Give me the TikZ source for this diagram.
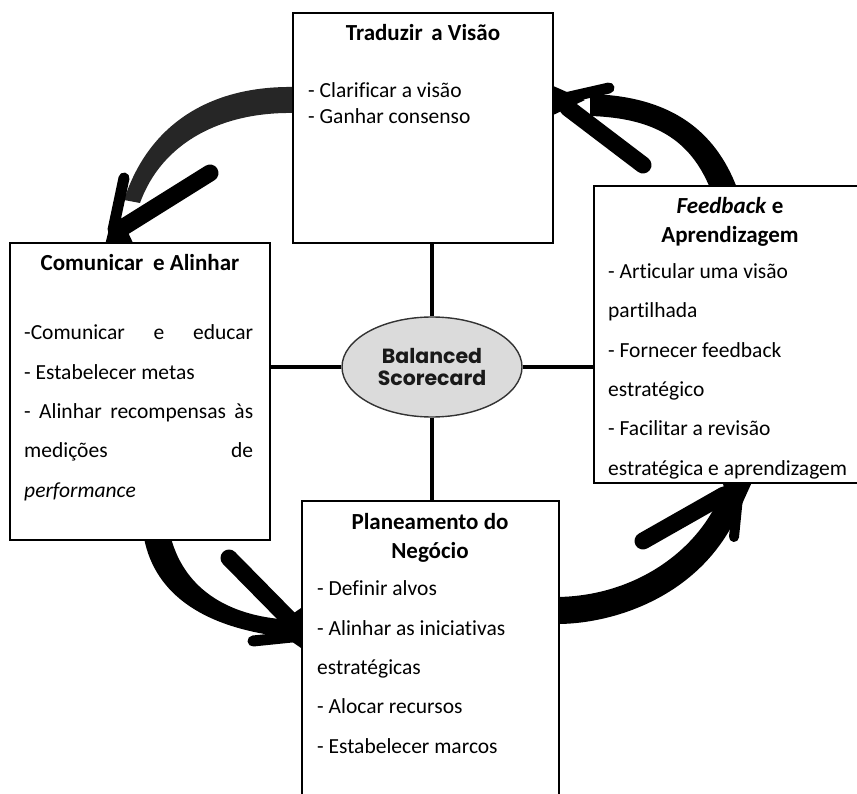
\documentclass[tikz,border=0pt]{standalone}
\usepackage{fontspec}
\setmainfont{Carlito}[Ligatures=NoCommon]
\newfontfamily\bscfont{Poppins}
\usetikzlibrary{shapes.geometric}
\begin{document}
\begin{tikzpicture}[x=1pt,y=-1pt,
  box/.style={draw, line width=2.3pt, fill=white, inner sep=0pt, outer sep=0pt},
  link/.style={line width=4pt},
  barb/.style={line cap=round, draw=black},
  % multi-line texts are placed by the baseline of their last line
  body/.style={font=\fontsize{21.5}{39.3}\selectfont, align=left, anchor=base west, inner sep=0pt},
  boxtitle/.style={font=\fontsize{23}{29}\selectfont\bfseries, align=center, anchor=base, inner sep=0pt},
]
\useasboundingbox (0,0) rectangle (857,794);

% ---- cycle arrows (drawn first, boxes sit on top) ----
% top -> left
\fill[black!85] (293,87) .. controls (215,86) and (150,120) .. (124,200)
  -- (140,203) .. controls (162,142) and (222,112) .. (293,113) -- cycle;
\draw[barb, line width=11pt] (113,230) -- (124,178);
\draw[barb, line width=17pt] (122,228) -- (210,173);
\fill (105,245) -- (115,205) -- (134,245) -- cycle;

% right -> top
\fill (737,188) .. controls (715,130) and (670,96) .. (590,94)
  -- (590,116) .. controls (655,118) and (690,140) .. (710,188) -- cycle;
\draw[barb, line width=11pt] (565,98) -- (609,88);
\draw[barb, line width=17pt] (568,108) -- (643,165);
\fill (551,85) -- (585,100) -- (551,116) -- cycle;

% left -> bottom
\fill (144,538) .. controls (155,595) and (205,630) .. (295,638)
  -- (295,620) .. controls (230,618) and (185,590) .. (171,538) -- cycle;
\draw[barb, line width=11pt] (292,637) -- (253,641);
\draw[barb, line width=17pt] (292,622) -- (229,558);
\fill (304,606) -- (272,628) -- (304,650) -- cycle;

% bottom -> right
\fill (557,624) .. controls (620,624) and (720,590) .. (748,485)
  -- (724,485) .. controls (705,545) and (640,596) .. (557,597) -- cycle;
\draw[barb, line width=17pt] (724,495) -- (643,541);
\draw[barb, line width=10pt] (738,497) -- (734,537);
\fill (722,482) -- (752,482) -- (737,515) -- cycle;

% ---- boxes ----
\node[box, minimum width=260pt, minimum height=230pt] (top) at (423,128) {};
\node[box, minimum width=260pt, minimum height=297pt] (left) at (140,391.5) {};
\node[box, minimum width=268pt, minimum height=297pt] (right) at (728,334.5) {};
\node[box, minimum width=257pt, minimum height=310pt] (bot) at (430.5,656) {};

% ---- centre ----
\node[ellipse, draw=black!80, line width=1.4pt, fill=black!14,
      minimum width=180pt, minimum height=100pt, inner sep=0pt,
      font=\bscfont\bfseries\fontsize{20.5}{22.5}\selectfont, align=center,
      text=black!90] (bsc) at (432,367) {Balanced\\Scorecard};

\draw[link] (bsc.north) -- (bsc.north |- top.south);
\draw[link] (bsc.south) -- (bsc.south |- bot.north);
\draw[link] (bsc.west) -- (bsc.west -| left.east);
\draw[link] (bsc.east) -- (bsc.east -| right.west);

% ---- texts ----
\node[boxtitle] (toptitle) at (423,41) {Traduzir\hspace{0.15em} a Visão};
\node[body, font=\fontsize{21.5}{26.3}\selectfont] (toptext) at (308,124)
  {- Clarificar a visão\\- Ganhar consenso};

\node[boxtitle] (lefttitle) at (140,271) {Comunicar\hspace{0.2em} e Alinhar};
\node[body] (lefttext) at (24,497)
  {\makebox[229pt][s]{-Comunicar e educar}\\
   - Estabelecer metas\\
   \makebox[229pt][s]{- Alinhar recompensas às}\\
   \makebox[229pt][s]{medições de}\\
   \textit{performance}};

\node[boxtitle] (righttitle) at (730,243) {\textit{Feedback} e\\Aprendizagem};
\node[body] (righttext) at (608,475)
  {- Articular uma visão\\partilhada\\- Fornecer feedback\\estratégico\\- Facilitar a revisão\\estratégica e aprendizagem};

\node[boxtitle] (bottitle) at (430,558) {Planeamento do\\Negócio};
\node[body] (bottext) at (317,753)
  {- Definir alvos\\- Alinhar as iniciativas\\estratégicas\\- Alocar recursos\\- Estabelecer marcos};
\end{tikzpicture}
\end{document}
